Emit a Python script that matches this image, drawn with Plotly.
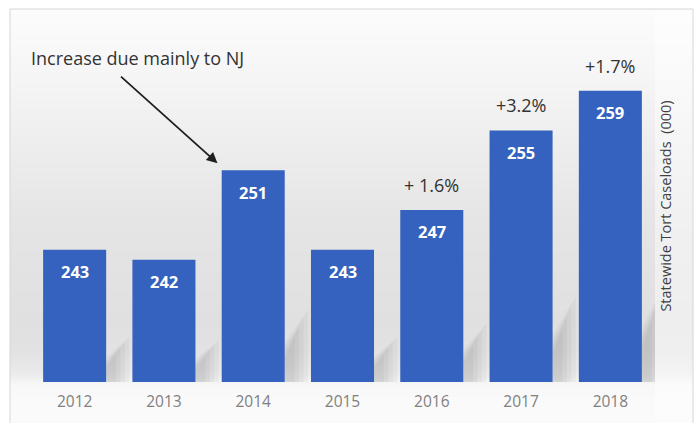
import base64
import struct
import zlib

import plotly.graph_objects as go

# Statewide tort caseloads (thousands) by year
years = ["2012", "2013", "2014", "2015", "2016", "2017", "2018"]
caseloads = [243, 242, 251, 243, 247, 255, 259]
change_labels = ["", "", "", "", "+ 1.6%", "+3.2%", "+1.7%"]

Y_MIN, Y_MAX = 229.7, 265.1
FONT = "Open Sans"
BAR_COLOR = "#3462BE"

# Figure geometry (pixels)
W, H = 695, 423
M_L, M_R, M_T, M_B = 30, 40, 30, 41
PLOT_W = W - M_L - M_R
PLOT_H = H - M_T - M_B


def px_to_paper(px, py):
    return (px - M_L) / PLOT_W, (H - M_B - py) / PLOT_H


def interp(stops, v):
    if v <= stops[0][0]:
        return stops[0][1]
    for (a, ca), (b, cb) in zip(stops, stops[1:]):
        if a <= v <= b:
            t = (v - a) / (b - a)
            return ca + (cb - ca) * t
    return stops[-1][1]


def gradient_png(w, h, x0, y0):
    """Soft grey backdrop: light at the top, deeper grey behind the bars."""
    stops = [(9, 252), (60, 247), (140, 238), (220, 229), (320, 224),
             (350, 226), (372, 234), (384, 247), (400, 250), (423, 250)]
    right_edge = W - M_R
    rows = []
    for j in range(h):
        base = interp(stops, y0 + j)
        light = base + (255 - base) * 0.45
        row = bytearray()
        for i in range(w):
            g = base if (x0 + i) < right_edge else light
            g = int(round(g))
            row += bytes((g, g, g))
        rows.append(b"\x00" + bytes(row))
    raw = b"".join(rows)

    def chunk(tag, data):
        c = struct.pack(">I", len(data)) + tag + data
        return c + struct.pack(">I", zlib.crc32(tag + data) & 0xFFFFFFFF)

    png = b"\x89PNG\r\n\x1a\n"
    png += chunk(b"IHDR", struct.pack(">IIBBBBB", w, h, 8, 2, 0, 0, 0))
    png += chunk(b"IDAT", zlib.compress(raw, 9))
    png += chunk(b"IEND", b"")
    return "data:image/png;base64," + base64.b64encode(png).decode()


FRAME_X0, FRAME_Y0, FRAME_X1, FRAME_Y1 = 10, 9, 693, 423
bg_src = gradient_png(FRAME_X1 - FRAME_X0, FRAME_Y1 - FRAME_Y0, FRAME_X0, FRAME_Y0)
bx, by = px_to_paper(FRAME_X0, FRAME_Y0)

fig = go.Figure()
fig.add_trace(go.Bar(
    x=list(range(len(years))),
    y=caseloads,
    marker=dict(color=BAR_COLOR, line=dict(width=0)),
    hoverinfo="x+y",
))

half_w = (1 - 0.294) / 2
shapes = []
# Soft floor shadows cast to the right of each bar, built from stacked faint layers
shadow_layers = [(0.26, 0.34, 0.05), (0.21, 0.30, 0.05), (0.16, 0.26, 0.06), (0.11, 0.21, 0.06)]
for i, v in enumerate(caseloads):
    xr = i + half_w
    h = (v - Y_MIN)
    for dx, frac, alpha in shadow_layers:
        path = (f"M {xr},{Y_MIN} L {xr},{Y_MIN + h * frac * 0.55} "
                f"L {xr + dx},{Y_MIN + h * frac} L {xr + dx},{Y_MIN} Z")
        shapes.append(dict(type="path", path=path, xref="x", yref="y",
                           fillcolor=f"rgba(80,80,80,{alpha})",
                           line=dict(width=0), layer="below"))

# Chart frame
fx0, fy0 = px_to_paper(FRAME_X0, FRAME_Y0)
fx1, fy1 = px_to_paper(FRAME_X1, FRAME_Y1 + 5)
shapes.append(dict(type="rect", xref="paper", yref="paper",
                   x0=fx0, y0=fy1, x1=fx1, y1=fy0,
                   line=dict(color="#d6d6d6", width=1), layer="above"))

annotations = []
# Value labels inside the bar tops
for i, v in enumerate(caseloads):
    annotations.append(dict(
        x=i, y=v, xref="x", yref="y", text=f"<b>{v}</b>",
        showarrow=False, yanchor="middle", yshift=-22,
        font=dict(family=FONT, size=16.5, color="#ffffff"),
    ))
# Year-over-year change labels above the bars
for i, (v, lab) in enumerate(zip(caseloads, change_labels)):
    if lab:
        annotations.append(dict(
            x=i, y=v, xref="x", yref="y", text=lab,
            showarrow=False, yanchor="bottom", yshift=11,
            font=dict(family=FONT, size=18, color="#333333"),
        ))

# Callout for the 2014 jump
ax0, ay0 = px_to_paper(29, 58)
annotations.append(dict(
    x=ax0, y=ay0, xref="paper", yref="paper", text="Increase due mainly to NJ",
    showarrow=False, xanchor="left", yanchor="middle",
    font=dict(family=FONT, size=18, color="#333333"),
))
annotations.append(dict(
    x=2 - 0.4, y=caseloads[2] + 0.7, xref="x", yref="y", text="",
    showarrow=True, axref="pixel", ayref="pixel", ax=-98, ay=-88,
    arrowhead=2, arrowsize=1.2, arrowwidth=1.8, arrowcolor="#1f1f1f",
))

fig.update_layout(
    width=W, height=H,
    margin=dict(l=M_L, r=M_R, t=M_T, b=M_B, pad=0),
    paper_bgcolor="#ffffff",
    plot_bgcolor="rgba(0,0,0,0)",
    bargap=0.294,
    showlegend=False,
    font=dict(family=FONT, color="#404040"),
    images=[dict(source=bg_src, xref="paper", yref="paper",
                 x=bx, y=by, sizex=(FRAME_X1 - FRAME_X0) / PLOT_W,
                 sizey=(FRAME_Y1 - FRAME_Y0) / PLOT_H,
                 xanchor="left", yanchor="top", sizing="stretch",
                 layer="below")],
    shapes=shapes,
    annotations=annotations,
    xaxis=dict(
        range=[-0.5, len(years) - 0.5],
        tickmode="array", tickvals=list(range(len(years))), ticktext=years,
        ticks="outside", ticklen=5, tickcolor="rgba(0,0,0,0)",
        tickfont=dict(family=FONT, size=15.5, color="#808080"),
        showline=False, showgrid=False, zeroline=False, fixedrange=True,
    ),
    yaxis=dict(
        range=[Y_MIN, Y_MAX], side="right",
        showticklabels=False, ticks="", showline=False, showgrid=False,
        zeroline=False, fixedrange=True,
        title=dict(text="Statewide Tort Caseloads  (000)", standoff=5,
                   font=dict(family=FONT, size=14.5, color="#404040")),
    ),
)

fig.write_html("out.html")
